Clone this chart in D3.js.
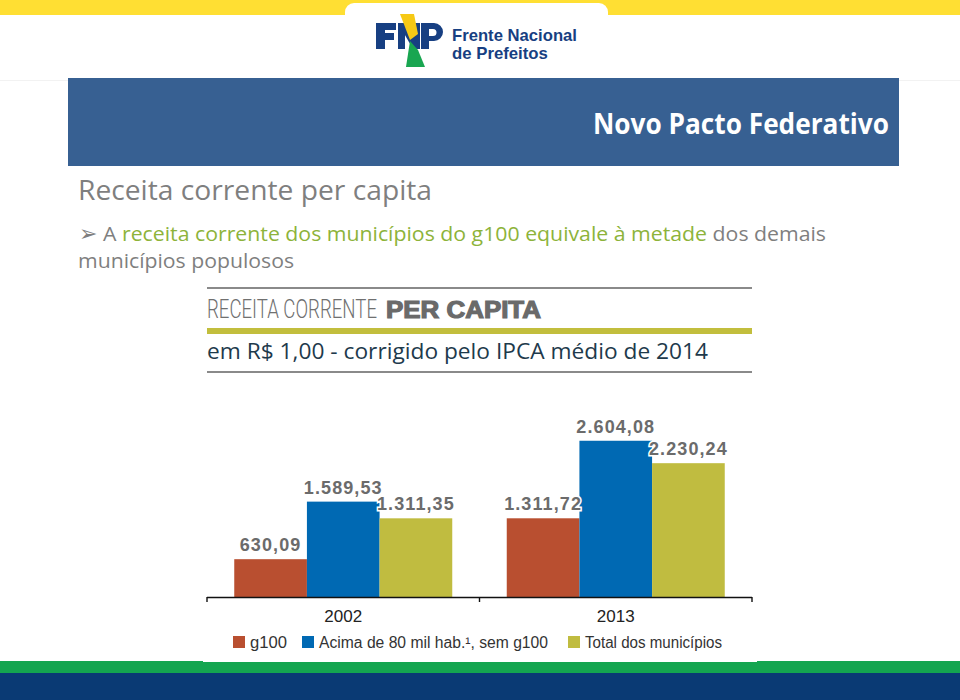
<!DOCTYPE html>
<html>
<head>
<meta charset="utf-8">
<script src="https://cdn.jsdelivr.net/npm/d3@7"></script>
<style>
html,body{margin:0;padding:0;background:#fff;}
svg{display:block;}
</style>
</head>
<body>
<svg id="chart" width="960" height="700"></svg>
<script>
// ---- data ----
const categories = ["2002", "2013"];
const seriesNames = ["g100", "Acima de 80 mil hab.\u00B9, sem g100", "Total dos municípios"];
const g100Values = [630.09, 1311.72];
const acima80Values = [1589.53, 2604.08];
const totalValues = [1311.35, 2230.24];
const seriesColors = ["#B94F30", "#0069B3", "#C0BC40"];

const table = categories.map((c, i) => ({
  cat: c,
  vals: [g100Values[i], acima80Values[i], totalValues[i]]
}));

const ptBR = d3.formatLocale({decimal: ",", thousands: ".", grouping: [3], currency: ["R$", ""]});
const fmt = ptBR.format(",.2f");

const svg = d3.select("#chart");

// text fitted horizontally to a width by an x-scale transform
function fitText(parent, x, y, width, str, attrs) {
  const g = parent.append("g");
  const t = g.append("text").attr("x", 0).attr("y", 0);
  Object.entries(attrs).forEach(([k, v]) => t.attr(k, v));
  t.text(str);
  const w = t.node().getComputedTextLength();
  const s = width / w;
  g.attr("transform", `translate(${x},${y}) scale(${s},1)`);
  return t;
}

// ---- slide frame ----
svg.append("rect").attr("x", 0).attr("y", 0).attr("width", 960).attr("height", 15).attr("fill", "#FFDF33");
svg.append("rect").attr("x", 345).attr("y", 3).attr("width", 263).attr("height", 30).attr("rx", 9).attr("fill", "#fff");
svg.append("rect").attr("x", 0).attr("y", 15).attr("width", 960).attr("height", 60).attr("fill", "#fff");
svg.append("line").attr("x1", 0).attr("x2", 960).attr("y1", 80.5).attr("y2", 80.5).attr("stroke", "#f2f2f2").attr("stroke-width", 1);

// logo
const navy = "#173F82";
const logo = svg.append("g");
logo.append("path").attr("fill", navy)
  .attr("d", "M376,23 H396 V30 H385 V33 H394 V40 H385 V49 H376 Z");
logo.append("rect").attr("x", 398).attr("y", 23).attr("width", 7).attr("height", 26).attr("fill", navy);
logo.append("rect").attr("x", 413).attr("y", 23).attr("width", 7).attr("height", 26).attr("fill", navy);
logo.append("path").attr("fill", navy).attr("d", "M398,23 H405 L420,49 H413 Z");
logo.append("path").attr("fill", "#F6C915").attr("d", "M400,14 H414 L418,34 L410,40 Z");
logo.append("path").attr("fill", "#19A651").attr("d", "M410,41 L418,50 L425,67 H406 Z");
logo.append("path").attr("fill", navy).attr("fill-rule", "evenodd")
  .attr("d", "M421,23 H434 A9,9 0 0 1 434,41 H429 V49 H421 Z M429,29 H433 A3.5,3.5 0 0 1 433,36 H429 Z");
const logoFont = {"font-family": "Liberation Sans, Arial, sans-serif", "font-weight": "bold", "font-size": 16, "fill": navy};
fitText(logo, 452, 40.5, 125, "Frente Nacional", logoFont);
fitText(logo, 452, 58.5, 96, "de Prefeitos", logoFont);

// blue header
svg.append("rect").attr("x", 68).attr("y", 78).attr("width", 831).attr("height", 88).attr("fill", "#376092");
svg.append("text").attr("x", 889).attr("y", 134).attr("text-anchor", "end")
  .attr("font-family", "Open Sans, Noto Sans, sans-serif").attr("font-weight", "bold")
  .attr("font-size", 28).attr("fill", "#fff").attr("textLength", 296).attr("lengthAdjust", "spacingAndGlyphs")
  .text("Novo Pacto Federativo");

// slide title & bullet
svg.append("text").attr("x", 78).attr("y", 200)
  .attr("font-family", "Open Sans, Noto Sans, sans-serif")
  .attr("font-size", 27).attr("fill", "#7F7F7F").attr("textLength", 354).attr("lengthAdjust", "spacingAndGlyphs")
  .text("Receita corrente per capita");

svg.append("text").attr("x", 79).attr("y", 241)
  .attr("font-family", "DejaVu Sans, sans-serif").attr("font-size", 22).attr("fill", "#7F7F7F")
  .text("\u27A2");
const bullet = svg.append("text").attr("x", 103).attr("y", 241)
  .attr("font-family", "Open Sans, Noto Sans, sans-serif")
  .attr("font-size", 20).attr("fill", "#7F7F7F").attr("textLength", 723).attr("lengthAdjust", "spacingAndGlyphs");
bullet.append("tspan").text("A ");
bullet.append("tspan").attr("fill", "#8DB33A").text("receita corrente dos municípios do g100 equivale à metade");
bullet.append("tspan").text(" dos demais");
svg.append("text").attr("x", 78).attr("y", 268)
  .attr("font-family", "Open Sans, Noto Sans, sans-serif")
  .attr("font-size", 20).attr("fill", "#7F7F7F").attr("textLength", 216).attr("lengthAdjust", "spacingAndGlyphs")
  .text("municípios populosos");

// bottom bands
svg.append("rect").attr("x", 0).attr("y", 661).attr("width", 960).attr("height", 13).attr("fill", "#14A550");
svg.append("rect").attr("x", 0).attr("y", 673).attr("width", 960).attr("height", 27).attr("fill", "#0A3A74");

// chart image panel
svg.append("rect").attr("x", 203).attr("y", 284).attr("width", 554).attr("height", 378).attr("fill", "#fff");

// chart header
svg.append("line").attr("x1", 207).attr("x2", 752).attr("y1", 288).attr("y2", 288).attr("stroke", "#8a8a8a").attr("stroke-width", 2);
fitText(svg, 207, 318, 170, "RECEITA CORRENTE",
  {"fill": "#707070", "font-family": "Roboto, sans-serif", "font-weight": 300, "font-size": 26});
fitText(svg, 386, 318, 155, "PER CAPITA",
  {"fill": "#6a6a6a", "font-family": "Liberation Sans, Arial, sans-serif", "font-weight": 900, "font-size": 24,
   "stroke": "#6a6a6a", "stroke-width": 1.2});
svg.append("rect").attr("x", 207).attr("y", 328).attr("width", 545).attr("height", 6).attr("fill", "#C2BE3D");
svg.append("text").attr("x", 207).attr("y", 359)
  .attr("font-family", "Open Sans, Noto Sans, sans-serif")
  .attr("font-size", 21).attr("fill", "#1E3A4C").attr("textLength", 501).attr("lengthAdjust", "spacingAndGlyphs")
  .text("em R$ 1,00 - corrigido pelo IPCA médio de 2014");
svg.append("line").attr("x1", 207).attr("x2", 752).attr("y1", 372).attr("y2", 372).attr("stroke", "#8a8a8a").attr("stroke-width", 2);

// ---- bars ----
const x0 = d3.scaleBand().domain(categories).range([207, 752]).paddingInner(0.2).paddingOuter(0.1);
const x1 = d3.scaleBand().domain(seriesNames).range([0, x0.bandwidth()]).padding(0);
const y = d3.scaleLinear().domain([0, 3000]).range([597, 417]);

const groups = svg.append("g").selectAll("g").data(table).join("g")
  .attr("transform", d => `translate(${x0(d.cat)},0)`);
groups.selectAll("rect").data(d => d.vals.map((v, i) => ({v, s: seriesNames[i], i})))
  .join("rect")
  .attr("x", d => x1(d.s)).attr("width", x1.bandwidth())
  .attr("y", d => y(d.v)).attr("height", d => y(0) - y(d.v))
  .attr("fill", d => seriesColors[d.i]);
groups.selectAll("text").data(d => d.vals.map((v, i) => ({v, s: seriesNames[i], i})))
  .join("text")
  .attr("x", d => x1(d.s) + x1.bandwidth() / 2).attr("y", d => y(d.v) - 8)
  .attr("text-anchor", "middle")
  .attr("font-family", "Liberation Sans, Arial, sans-serif").attr("font-weight", "bold")
  .attr("font-size", 18).attr("letter-spacing", 1.1)
  .attr("fill", "#6b6b6b").attr("stroke", "#fff").attr("stroke-width", 3).attr("paint-order", "stroke")
  .text(d => fmt(d.v));

// axis
const axisBand = d3.scalePoint().domain([0, 1, 2]).range([207, 752]);
svg.append("line").attr("x1", 207).attr("x2", 752).attr("y1", 597.5).attr("y2", 597.5).attr("stroke", "#111").attr("stroke-width", 1.6);
svg.append("g").selectAll("line").data(axisBand.domain()).join("line")
  .attr("x1", d => axisBand(d)).attr("x2", d => axisBand(d)).attr("y1", 597).attr("y2", 602)
  .attr("stroke", "#111").attr("stroke-width", 1.4);
svg.append("g").selectAll("text").data(categories).join("text")
  .attr("x", d => x0(d) + x0.bandwidth() / 2).attr("y", 622).attr("text-anchor", "middle")
  .attr("font-family", "Liberation Sans, Arial, sans-serif").attr("font-size", 17).attr("fill", "#222")
  .text(d => d);

// legend
const legX = [233, 302, 568];
const legW = [37, 229, 137];
const leg = svg.append("g").selectAll("g").data(seriesNames).join("g")
  .attr("transform", (d, i) => `translate(${legX[i]},636)`);
leg.append("rect").attr("width", 12).attr("height", 12).attr("fill", (d, i) => seriesColors[i]);
leg.append("text").attr("x", 17).attr("y", 12)
  .attr("font-family", "Liberation Sans, Arial, sans-serif").attr("font-size", 16).attr("fill", "#333")
  .attr("textLength", (d, i) => legW[i]).attr("lengthAdjust", "spacingAndGlyphs")
  .text(d => d);
</script>
</body>
</html>
